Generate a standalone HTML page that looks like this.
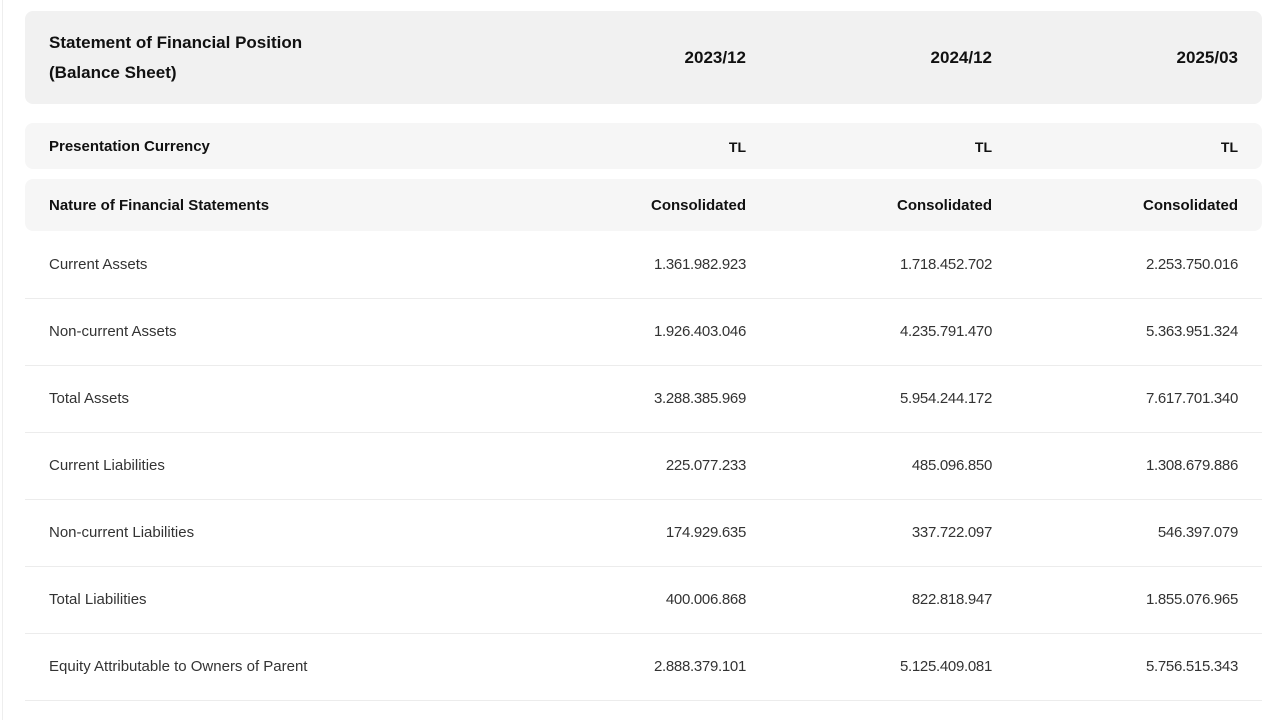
<!DOCTYPE html>
<html><head><style>
body{margin:0;width:1280px;height:720px;background:#fff;font-family:"Liberation Sans",sans-serif;color:#222;position:relative;overflow:hidden}
.box{position:absolute;left:25px;width:1237px;border-radius:8px}
.t{position:absolute;white-space:nowrap}
.r{position:absolute;text-align:right;white-space:nowrap}
.line{position:absolute;left:25px;width:1237px;height:1px;background:#ececec}
</style></head><body>
<div style="position:absolute;left:2px;top:0;width:1px;height:720px;background:#eee"></div>
<div class="box" style="top:11px;height:93px;background:#f1f1f1"></div>
<div class="box" style="top:123px;height:46px;background:#f6f6f6"></div>
<div class="box" style="top:179px;height:52px;background:#f6f6f6"></div>
<div class="t" style="left:49px;top:28px;font-size:17px;font-weight:bold;line-height:30px;color:#111">Statement of Financial Position<br>(Balance Sheet)</div>
<script>
var cols=[746,992,1238];
function r(y,vals,st){vals.forEach(function(v,i){var d=document.createElement('div');d.className='r';d.style.cssText='right:'+(1280-cols[i])+'px;top:'+(y-10)+'px;line-height:20px;'+st;d.textContent=v;document.body.appendChild(d);});}
function l(y,t,st){var d=document.createElement('div');d.className='t';d.style.cssText='left:49px;top:'+(y-10)+'px;line-height:20px;'+st;d.textContent=t;document.body.appendChild(d);}
r(58,['2023/12','2024/12','2025/03'],'font-size:17px;font-weight:bold;color:#111');
l(147,'Presentation Currency','font-size:15px;font-weight:bold;color:#111');
r(147,['TL','TL','TL'],'font-size:14px;font-weight:bold;color:#111');
l(206,'Nature of Financial Statements','font-size:15px;font-weight:bold;color:#111');
r(206,['Consolidated','Consolidated','Consolidated'],'font-size:15px;font-weight:bold;color:#111');
var rows=[['Current Assets','1.361.982.923','1.718.452.702','2.253.750.016'],
['Non-current Assets','1.926.403.046','4.235.791.470','5.363.951.324'],
['Total Assets','3.288.385.969','5.954.244.172','7.617.701.340'],
['Current Liabilities','225.077.233','485.096.850','1.308.679.886'],
['Non-current Liabilities','174.929.635','337.722.097','546.397.079'],
['Total Liabilities','400.006.868','822.818.947','1.855.076.965'],
['Equity Attributable to Owners of Parent','2.888.379.101','5.125.409.081','5.756.515.343']];
rows.forEach(function(x,i){var y=265+67*i;l(y,x[0],'font-size:15px;color:#333');r(y,x.slice(1),'font-size:15px;color:#333;letter-spacing:-0.3px');
var ln=document.createElement('div');ln.className='line';ln.style.top=(y+33)+'px';document.body.appendChild(ln);});
</script>
</body></html>
